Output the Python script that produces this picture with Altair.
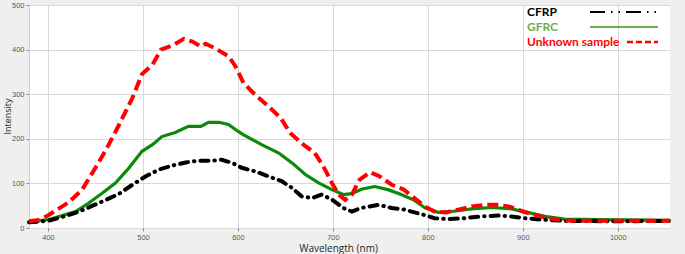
import altair as alt
import pandas as pd

# CFRP (black dash-dot)
cfrp_wl = [380, 400, 419, 433, 447, 461, 475, 489, 503, 517, 531, 545, 559, 573, 583, 594, 604, 618, 632, 646,
           657, 667, 678, 688, 699, 711, 720, 730, 748, 762, 776, 786, 795, 807, 821, 839, 856, 874, 888, 902,
           919, 944, 996, 1055]
cfrp_val = [13, 16, 27, 37, 50, 63, 77, 97, 116, 131, 140, 147, 151, 151, 153, 146, 135, 127, 116, 105,
            90, 71, 67, 75, 64, 45, 37, 45, 52, 45, 41, 35, 30, 22, 20, 22, 26, 28, 26, 22,
            19, 16, 15, 16]

# GFRC (green solid)
gfrc_wl = [380, 401, 415, 429, 443, 457, 471, 485, 499, 510, 520, 534, 548, 561, 569, 580, 590, 600, 606, 625,
           643, 657, 671, 685, 699, 711, 720, 730, 744, 758, 772, 786, 797, 811, 825, 846, 867, 888, 905, 923,
           944, 979, 1055]
gfrc_val = [13, 19, 28, 37, 56, 78, 101, 134, 172, 187, 205, 214, 228, 228, 237, 237, 232, 217, 209, 187,
            168, 146, 120, 101, 86, 75, 77, 87, 93, 86, 75, 62, 45, 35, 37, 43, 46, 43, 35, 26,
            20, 19, 17]

# Unknown sample (red dashed)
unk_wl = [380, 390, 400, 422, 436, 450, 461, 475, 489, 499, 510, 519, 531, 543, 552, 561, 566, 576, 590, 597,
          606, 618, 632, 645, 655, 669, 681, 690, 699, 706, 713, 720, 728, 739, 749, 762, 774, 783, 797, 807,
          819, 832, 846, 860, 872, 886, 900, 912, 926, 944, 965, 996, 1031, 1055]
unk_val = [15, 18, 28, 58, 86, 135, 175, 232, 292, 345, 366, 400, 409, 424, 418, 407, 413, 403, 385, 364,
           325, 299, 273, 247, 213, 187, 168, 138, 101, 75, 63, 75, 108, 125, 116, 97, 87, 72, 48, 37,
           35, 41, 48, 52, 52, 48, 37, 30, 22, 17, 16, 16, 16, 16]

legend_names = ["CFRP", "GFRC", "Unknown sample"]
legend_colors = ["#000000", "#70ad47", "#ff0000"]
x_ticks = [400, 500, 600, 700, 800, 900, 1000]
y_ticks = [0, 100, 200, 300, 400, 500]

df_c = pd.DataFrame({"wl": cfrp_wl, "val": cfrp_val})
df_g = pd.DataFrame({"wl": gfrc_wl, "val": gfrc_val})
df_u = pd.DataFrame({"wl": unk_wl, "val": unk_val})

xenc = alt.X("wl:Q", scale=alt.Scale(domain=[380, 1055], nice=False, zero=False),
             axis=alt.Axis(values=x_ticks, format="d", title="Wavelength (nm)", grid=True,
                           gridColor="#d9d9d9", domain=False, tickColor="#888888", tickSize=3,
                           labelPadding=2, labelFontSize=7.5, labelColor="#595959",
                           labelFont="Liberation Sans", titleFont="Open Sans", titleFontSize=10,
                           titleFontWeight="normal", titleColor="#262626", titleX=309, titleY=23,
                           titleBaseline="alphabetic"))
yenc = alt.Y("val:Q", scale=alt.Scale(domain=[0, 500], nice=False),
             axis=alt.Axis(values=y_ticks, title="Intensity", grid=True, gridColor="#d9d9d9",
                           domain=True, domainColor="#d0d0d0", tickColor="#888888", tickSize=3,
                           labelPadding=2, labelFontSize=7.5, labelColor="#595959",
                           labelFont="Liberation Sans", titleFont="Open Sans", titleFontSize=9,
                           titleFontWeight="normal", titleColor="#262626", titleX=-22, titleY=111,
                           titleBaseline="middle"))

green_line = alt.Chart(df_g).mark_line(color="#0a8a0a", strokeWidth=3.2).encode(x=xenc, y=yenc)
black_line = alt.Chart(df_c).mark_line(color="#000000", strokeWidth=4, strokeCap="round",
                                       strokeDash=[8, 6, 0.5, 6]).encode(x=xenc, y=yenc)
red_line = alt.Chart(df_u).mark_line(color="#ff0000", strokeWidth=4,
                                     strokeDash=[11, 5]).encode(x=xenc, y=yenc)

layers = [green_line, black_line, red_line]

leg_y = [7, 22, 37]
leg_x1 = [561, 561, 598]
leg_dash = [[15, 6, 1.5, 6, 1.5, 6], [1, 0], [6, 3]]
leg_width = [2, 2.2, 2.5]
for name, col, yy, x1, dash, w in zip(legend_names, legend_colors, leg_y, leg_x1, leg_dash, leg_width):
    t = alt.Chart(pd.DataFrame({"name": [name]})).mark_text(
        align="left", baseline="middle", font="Lato", fontWeight="bold", fontSize=12, color=col
    ).encode(text="name:N", x=alt.value(498), y=alt.value(yy))
    r = alt.Chart(pd.DataFrame({"name": [name]})).mark_rule(
        color=col, strokeWidth=w, strokeDash=dash
    ).encode(x=alt.value(x1), x2=alt.value(629), y=alt.value(yy))
    layers += [t, r]

chart = alt.layer(*layers).properties(
    width=641, height=223,
    autosize=alt.AutoSizeParams(type="none"),
    padding={"left": 29, "top": 5, "right": 15, "bottom": 26},
    background="#efefef",
).configure_view(fill="white", stroke=None)

chart.save("out.html", embed_options={"renderer": "svg", "actions": False})
